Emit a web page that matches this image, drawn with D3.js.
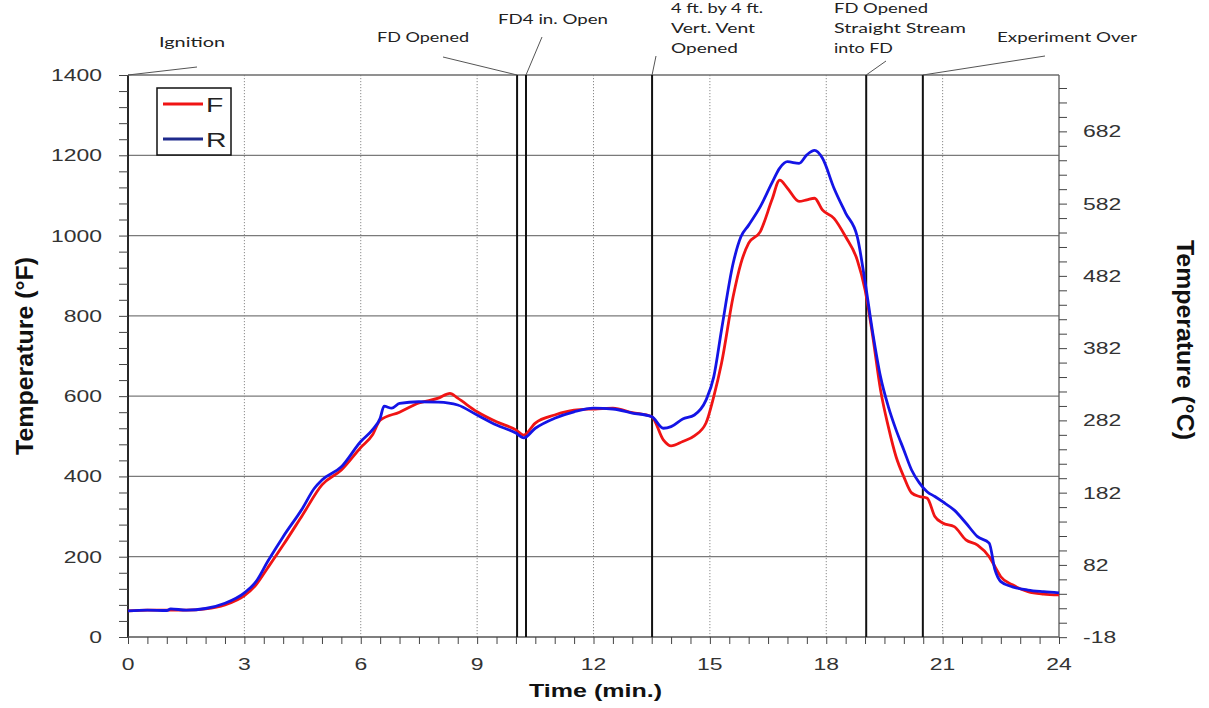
<!DOCTYPE html>
<html>
<head>
<meta charset="utf-8">
<script src="https://cdn.jsdelivr.net/npm/d3@7"></script>
<style>
  html, body { margin: 0; padding: 0; background: #fff; }
  svg { display: block; }
</style>
</head>
<body>
<svg id="chart" width="1209" height="708"></svg>
<script>
// ---------------- DATA ----------------
const timeF = [0,0.5,1.0,1.5,2.0,2.5,3.0,3.3,3.6,4.0,4.5,5.0,5.5,6.0,6.3,6.5,7.0,7.5,8.0,8.3,8.5,9.0,9.5,10.0,10.2,10.5,11.0,11.5,12.0,12.5,13.0,13.5,13.8,14.0,14.3,14.6,14.9,15.1,15.3,15.6,15.8,16.0,16.3,16.6,16.8,17.0,17.3,17.5,17.7,17.9,18.2,18.5,18.8,19.0,19.2,19.4,19.6,19.8,20.0,20.2,20.4,20.6,20.8,21.0,21.3,21.6,21.9,22.2,22.35,22.5,22.8,23.2,23.6,24.0];
const tempF = [65,67,67,67,70,80,103,130,172,229,304,379,416,472,503,540,560,583,595,607,595,561,536,516,503,533,553,565,568,570,559,549,491,476,487,501,533,599,682,848,931,981,1010,1089,1138,1118,1085,1089,1093,1064,1043,997,939,865,748,615,524,449,399,359,350,346,300,284,275,242,229,200,175,150,130,113,107,105];

const timeR = [0,0.5,1.0,1.1,1.5,2.0,2.5,3.0,3.3,3.6,4.0,4.5,4.8,5.0,5.5,6.0,6.3,6.5,6.6,6.8,7.0,7.5,8.0,8.5,9.0,9.5,10.0,10.2,10.5,11.0,11.5,12.0,12.5,13.0,13.5,13.8,14.0,14.3,14.6,14.9,15.1,15.3,15.6,15.8,16.0,16.3,16.6,16.8,17.0,17.3,17.5,17.7,17.9,18.2,18.5,18.8,19.0,19.2,19.4,19.6,19.8,20.0,20.2,20.4,20.6,20.8,21.0,21.3,21.6,21.9,22.2,22.35,22.5,22.8,23.2,23.6,24.0];
const tempR = [65,67,66,70,67,71,84,110,138,188,250,321,370,391,424,487,516,545,575,570,582,586,585,578,553,528,508,496,520,545,561,570,568,558,549,520,524,543,553,590,648,765,931,997,1026,1072,1131,1168,1184,1180,1201,1212,1193,1118,1056,997,885,757,648,574,516,466,416,384,362,350,337,316,284,250,234,167,138,125,117,113,110];

const seriesNames = ["F", "R"];
const xTickLabels = [0,3,6,9,12,15,18,21,24];
const yTickLabelsF = [0,200,400,600,800,1000,1200,1400];
const yTickLabelsC = [-18,82,182,282,382,482,582,682];
const eventTimes = [10.03, 10.26, 13.51, 19.03, 20.49];
const annotationLines = [
  ["Ignition"],
  ["FD Opened"],
  ["FD4 in. Open"],
  ["4 ft. by 4 ft.", "Vert. Vent", "Opened"],
  ["FD Opened", "Straight Stream", "into FD"],
  ["Experiment Over"]
];
const annotationTimes = [0, 10.03, 10.26, 13.51, 19.03, 20.49];

// ---------------- LAYOUT ----------------
const svg = d3.select("#chart");
const L = 128, R = 1059, T = 75, B = 637;
const x = d3.scaleLinear().domain([0, 24]).range([L, R]);
const y = d3.scaleLinear().domain([0, 1400]).range([B, T]);
const yC = d3.scaleLinear().domain([(0 - 32) * 5 / 9, (1400 - 32) * 5 / 9]).range([B, T]);

const SX = 1.35; // horizontal stretch of the original image's text
const tickFont = "'Liberation Sans', Arial, sans-serif";

// horizontal gridlines
svg.append("g").selectAll("line")
  .data(d3.range(200, 1401, 200))
  .join("line")
  .attr("x1", L).attr("x2", R)
  .attr("y1", d => y(d)).attr("y2", d => y(d))
  .attr("stroke", "#7a7a7a").attr("stroke-width", 1.2);

// vertical dotted gridlines
svg.append("g").selectAll("line")
  .data(d3.range(3, 22, 3))
  .join("line")
  .attr("x1", d => x(d)).attr("x2", d => x(d))
  .attr("y1", T).attr("y2", B)
  .attr("stroke", "#8a8a8a").attr("stroke-width", 1)
  .attr("stroke-dasharray", "1.2,1.8");

// axes (ticks only)
const axL = svg.append("g").attr("transform", `translate(${L},0)`)
  .call(d3.axisLeft(y).tickValues(d3.range(0, 1401, 40)).tickSize(9).tickFormat(""));
const axB = svg.append("g").attr("transform", `translate(0,${B})`)
  .call(d3.axisBottom(x).tickValues(d3.range(0, 24.01, 0.5)).tickSize(7).tickFormat(""));
const axR = svg.append("g").attr("transform", `translate(${R},0)`)
  .call(d3.axisRight(yC).tickValues(d3.range(-18, 760, 20).filter(v => yC(v) <= B + 0.5)).tickSize(8).tickFormat(""));
[axL, axB, axR].forEach(g => {
  g.select(".domain").attr("stroke", "#222").attr("stroke-width", 1.4);
  g.selectAll(".tick line").attr("stroke", "#444").attr("stroke-width", 1);
});
axL.select(".domain").attr("d", `M0,${T}V${B}`).attr("stroke-width", 1.8).attr("stroke", "#111");
axR.select(".domain").attr("d", `M0,${T}V${B}`).attr("stroke", "#666");
axB.select(".domain").attr("d", `M${L},0H${R}`).attr("stroke", "#555");

// top frame
svg.append("line").attr("x1", L).attr("x2", R).attr("y1", T).attr("y2", T)
  .attr("stroke", "#666").attr("stroke-width", 1.2);

// tick labels
function stretchedText(parent, px, py, txt, anchor, size, opts = {}) {
  const g = parent.append("g").attr("transform", `translate(${px},${py}) scale(${SX},1)`);
  const t = g.append("text").text(txt)
    .attr("text-anchor", anchor)
    .attr("font-family", opts.family || tickFont)
    .attr("font-size", size)
    .attr("font-weight", opts.weight || "normal")
    .attr("fill", opts.fill || "#333");
  return t;
}
const labels = svg.append("g");
yTickLabelsF.forEach(v => stretchedText(labels, 102, y(v) + 6, String(v), "end", 17));
yTickLabelsC.forEach(v => stretchedText(labels, 1083, yC(v) + 6, String(v), "start", 17));
xTickLabels.forEach(v => stretchedText(labels, x(v), 670, String(v), "middle", 17));

// axis titles
svg.append("text").text("Time (min.)")
  .attr("x", 529).attr("y", 697)
  .attr("font-family", tickFont).attr("font-weight", "bold").attr("font-size", 18)
  .attr("textLength", 133).attr("lengthAdjust", "spacingAndGlyphs").attr("fill", "#111");

svg.append("g").attr("transform", `translate(33,356) scale(${SX},1) rotate(-90)`)
  .append("text").text("Temperature (°F)")
  .attr("text-anchor", "middle")
  .attr("font-family", tickFont).attr("font-weight", "bold").attr("font-size", 18)
  .attr("textLength", 198).attr("lengthAdjust", "spacingAndGlyphs").attr("fill", "#111");

svg.append("g").attr("transform", `translate(1177,340) scale(${SX},1) rotate(90)`)
  .append("text").text("Temperature (°C)")
  .attr("text-anchor", "middle")
  .attr("font-family", tickFont).attr("font-weight", "bold").attr("font-size", 18)
  .attr("textLength", 200).attr("lengthAdjust", "spacingAndGlyphs").attr("fill", "#111");

// event lines
svg.append("g").selectAll("line")
  .data(eventTimes)
  .join("line")
  .attr("x1", d => x(d)).attr("x2", d => x(d))
  .attr("y1", T).attr("y2", B)
  .attr("stroke", "#111").attr("stroke-width", 2);

// annotations (text layout)
const annLayout = [
  {tx: 159, base: 47, widths: [66], lx: 197, ly: 67},
  {tx: 377, base: 42, widths: [92], lx: 443, ly: 57},
  {tx: 498, base: 24, widths: [110], lx: 542, ly: 37},
  {tx: 671, base: 13, widths: [92, 84, 67], lx: 656, ly: 56},
  {tx: 834, base: 13, widths: [94, 132, 59], lx: 886, ly: 61},
  {tx: 997, base: 42, widths: [140], lx: 1045, ly: 56}
];
const ann = svg.append("g");
annotationLines.forEach((lines, i) => {
  const lay = annLayout[i];
  lines.forEach((s, j) => {
    ann.append("text").text(s)
      .attr("x", lay.tx).attr("y", lay.base + j * 20)
      .attr("font-family", "Lato, 'Open Sans', sans-serif").attr("font-size", 14)
      .attr("textLength", lay.widths[j]).attr("lengthAdjust", "spacingAndGlyphs")
      .attr("fill", "#222");
  });
  ann.append("line")
    .attr("x1", lay.lx).attr("y1", lay.ly)
    .attr("x2", x(annotationTimes[i])).attr("y2", T)
    .attr("stroke", "#555").attr("stroke-width", 1);
});

// series
const line = d3.line().x(d => x(d[0])).y(d => y(d[1])).curve(d3.curveMonotoneX);
const dataF = timeF.map((t, i) => [t, tempF[i]]);
const dataR = timeR.map((t, i) => [t, tempR[i]]);
const colors = {F: "#f01414", R: "#1414e6"};
svg.append("path").datum(dataF).attr("d", line)
  .attr("fill", "none").attr("stroke", colors.F).attr("stroke-width", 2.8)
  .attr("stroke-linejoin", "round");
svg.append("path").datum(dataR).attr("d", line)
  .attr("fill", "none").attr("stroke", colors.R).attr("stroke-width", 2.8)
  .attr("stroke-linejoin", "round");

// legend
const lg = svg.append("g");
lg.append("rect").attr("x", 157).attr("y", 88).attr("width", 74).attr("height", 67)
  .attr("fill", "#fff").attr("stroke", "#111").attr("stroke-width", 1.5);
const legendColors = {F: "#f01414", R: "#1e2a8c"};
seriesNames.forEach((n, i) => {
  const ly = 104 + i * 35;
  lg.append("line").attr("x1", 163).attr("x2", 203).attr("y1", ly).attr("y2", ly)
    .attr("stroke", legendColors[n]).attr("stroke-width", 2.8);
  stretchedText(lg, 206, ly + 8, n, "start", 21, {fill: "#222"});
});
</script>
</body>
</html>
